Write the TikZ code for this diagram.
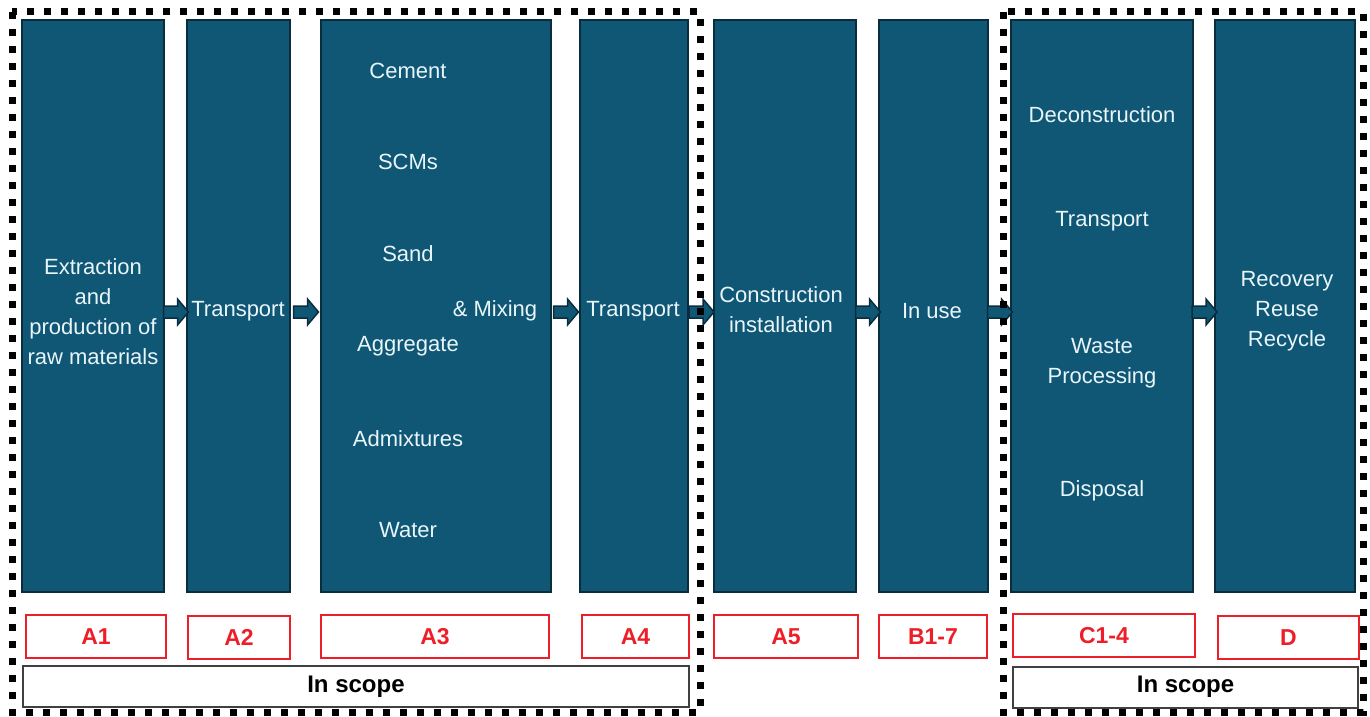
\documentclass[tikz,border=0pt]{standalone}
\usepackage{fontspec}
\setmainfont{Liberation Sans}
\usetikzlibrary{calc}
\definecolor{boxfill}{RGB}{16,86,117}
\definecolor{boxline}{RGB}{10,45,62}
\definecolor{txt}{RGB}{232,246,250}
\definecolor{lbl}{RGB}{238,30,40}
\tikzset{
 blk/.style={draw=boxline, line width=2pt, fill=boxfill, inner sep=0pt, minimum height=572pt},
 wt/.style={text=txt, font=\fontsize{22}{30}\selectfont, align=center, inner sep=0pt},
 lab/.style={draw=lbl, line width=1.5pt, text=lbl, font=\bfseries\fontsize{23}{24}\selectfont, inner sep=0pt, minimum height=43pt},
 scopebox/.style={draw=black!75, line width=2pt, font=\bfseries\fontsize{24}{26}\selectfont, inner sep=0pt, minimum height=41pt},
 dots/.style={line width=7pt, dash pattern=on 7pt off 10pt},
 arrowshape/.style={draw=boxline, line width=1.5pt, fill=boxfill, line join=miter}
}
\begin{document}
\begin{tikzpicture}[x=1pt,y=-1pt]
\useasboundingbox (0,0) rectangle (1370,717);
% main boxes
\node[blk, minimum width=142pt] (a1) at (93,306) {};
\node[blk, minimum width=103pt] (a2) at (238.5,306) {};
\node[blk, minimum width=230pt] (a3) at (436,306) {};
\node[blk, minimum width=108pt] (a4) at (634,306) {};
\node[blk, minimum width=142pt] (a5) at (785,306) {};
\node[blk, minimum width=109pt] (b) at (933.5,306) {};
\node[blk, minimum width=182pt] (c) at (1102,306) {};
\node[blk, minimum width=140pt] (d) at (1285,306) {};
% texts
\node[wt] (t1) at (93,312) {Extraction\\and\\production of\\raw materials};
\node[wt] (t2) at (238,311) {Transport};
\node[wt] (t3a) at (408,71) {Cement};
\node[wt] (t3b) at (408,162) {SCMs};
\node[wt] (t3c) at (408,254) {Sand};
\node[wt] (t3d) at (408,346) {Aggregate};
\node[wt] (t3e) at (408,439) {Admixtures};
\node[wt] (t3f) at (408,530) {Water};
\node[wt] (t3g) at (495,311) {\& Mixing};
\node[wt] (t4) at (633,311) {Transport};
\node[wt] (t5) at (781,310) {Construction\\installation};
\node[wt] (t6) at (932,311) {In use};
\node[wt] (t7a) at (1102,115) {Deconstruction};
\node[wt] (t7b) at (1102,221) {Transport};
\node[wt] (t7c) at (1102,363) {Waste\\Processing};
\node[wt] (t7d) at (1102,491) {Disposal};
\node[wt] (t8) at (1287,311) {Recovery\\Reuse\\Recycle};
% arrows
\foreach \p/\q in {a1/a2,a2/a3,a3/a4,a4/a5,a5/b,b/c,c/d}{
  \coordinate (m-\p) at ($(\p.east)!0.5!(\q.west)+(0,6)$);
  \draw[arrowshape] ($(m-\p)+(-12,-6)$) -- ++(14,0) -- ++(0,-7) -- ++(11,13) -- ++(-11,13) -- ++(0,-7) -- ++(-14,0) -- cycle;
}
% labels
\node[lab, minimum width=140pt] (l1) at (96,636.5) {A1};
\node[lab, minimum width=102pt] (l2) at (239,637.5) {A2};
\node[lab, minimum width=228pt] (l3) at (435,636.5) {A3};
\node[lab, minimum width=107pt] (l4) at (635.5,636.5) {A4};
\node[lab, minimum width=144pt] (l5) at (786,636.5) {A5};
\node[lab, minimum width=108pt] (l6) at (933,636.5) {B1-7};
\node[lab, minimum width=182pt] (l7) at (1104,635.5) {C1-4};
\node[lab, minimum width=141pt] (l8) at (1288.5,637.5) {D};
% scope
\node[scopebox, minimum width=666pt] (s1) at (356,686.5) {In scope};
\node[scopebox, minimum width=345pt] (s2) at (1185.5,687) {In scope};
% dotted frames
\draw[dots] (12,12) rectangle (700,712);
\draw[dots] (1003,12) rectangle (1363,712);
\end{tikzpicture}
\end{document}
